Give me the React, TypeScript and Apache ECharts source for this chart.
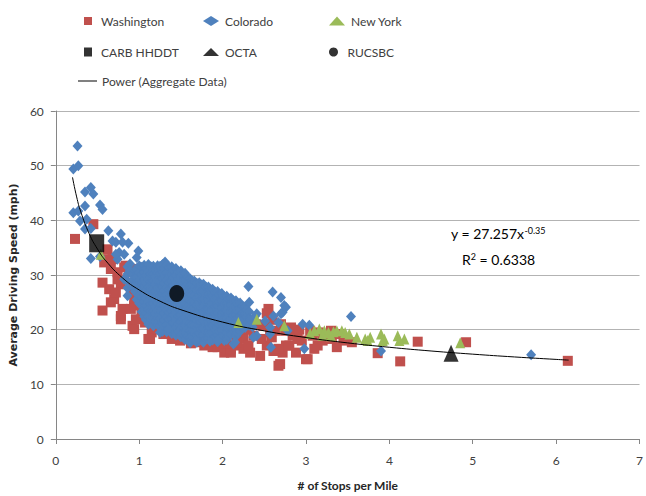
import React, { useEffect, useRef } from "react";
import * as echarts from "echarts";

const FONT = "Lato, 'Liberation Sans', sans-serif";

const seriesNames = ["Washington", "Colorado", "New York", "CARB HHDDT", "OCTA", "RUCSBC", "Power (Aggregate Data)"];
const xTicks = [0, 1, 2, 3, 4, 5, 6, 7];
const yTicks = [0, 10, 20, 30, 40, 50, 60];

const washington: [number, number][] = [
  [0.23, 36.6], [0.45, 39.3], [0.62, 34.7], [0.60, 32.9], [0.56, 28.6], [0.56, 23.5], [0.58, 32.3],
  [0.66, 31.1], [0.64, 27.4], [0.70, 25.6], [0.74, 29.2], [0.82, 31.4], [0.80, 23.8], [0.78, 21.9],
  [0.92, 20.7], [0.90, 27.4], [0.94, 24.4], [0.96, 31.1], [1.03, 22.5], [1.11, 18.3], [1.19, 20.1],
  [1.39, 18.3], [1.51, 18.6], [0.68, 32.9], [0.74, 30.5], [0.78, 28.3], [0.72, 26.8], [0.66, 25.0],
  [0.78, 22.5], [0.84, 31.7], [0.88, 30.5], [0.92, 28.0], [0.94, 25.6], [0.90, 23.8], [0.96, 21.9],
  [0.94, 20.1], [1.03, 23.2], [1.07, 21.3], [1.15, 19.5], [1.13, 18.3], [1.23, 20.1], [1.29, 19.2],
  [1.49, 18.0], [1.45, 20.1], [1.58, 18.9], [1.70, 17.7], [1.78, 17.1], [1.88, 16.8], [1.94, 18.3],
  [2.02, 15.8], [2.10, 16.5], [2.17, 17.1], [2.25, 18.3], [2.33, 15.8], [2.45, 15.2], [2.53, 17.1],
  [2.61, 16.1], [2.67, 13.4], [2.72, 15.8], [2.80, 17.1], [2.88, 15.8], [3.00, 14.6], [2.82, 20.1],
  [2.84, 18.9], [2.57, 19.5], [2.49, 20.7], [2.25, 20.1], [2.02, 23.2], [2.55, 23.8], [2.53, 23.0],
  [2.90, 18.3], [3.08, 18.9], [3.14, 17.1], [3.20, 18.0], [3.25, 18.6], [3.37, 16.8], [3.31, 18.3],
  [3.55, 17.7], [3.02, 14.6], [2.76, 17.1], [2.82, 20.4], [2.63, 19.8], [2.69, 13.7], [2.25, 16.5],
  [2.10, 15.8], [1.94, 16.8], [2.17, 17.7], [2.31, 17.1], [2.37, 18.9], [2.47, 18.3], [2.59, 18.6],
  [2.67, 16.5], [2.30, 20.0], [2.40, 21.0], [2.60, 21.8], [2.70, 21.0], [2.75, 19.8], [2.92, 20.0],
  [3.05, 19.8], [3.15, 19.5], [3.30, 19.8], [3.40, 19.2], [3.45, 18.0], [2.95, 18.0], [3.10, 16.5],
  [1.62, 17.5], [1.85, 18.0], [2.05, 17.5], [1.01, 30.2], [1.05, 28.5], [0.99, 26.5], [1.06, 25.2],
  [3.86, 15.7], [4.13, 14.2], [4.34, 17.8], [4.92, 17.7], [6.14, 14.3],
];

const colorado: [number, number][] = [
  // upper-left outliers
  [0.26, 53.6], [0.21, 49.4], [0.27, 50.0], [0.21, 41.4], [0.27, 41.7], [0.35, 42.6], [0.35, 45.2],
  [0.42, 46.0], [0.45, 44.8], [0.37, 40.2], [0.29, 39.9], [0.35, 38.4], [0.42, 38.5], [0.53, 42.8],
  [0.56, 42.0], [0.42, 33.0], [0.53, 33.4], [0.63, 38.1], [0.68, 36.2], [0.72, 36.0], [0.78, 37.5],
  [0.76, 34.1], [0.74, 32.9], [0.87, 35.8], [0.82, 33.8], [0.99, 34.4], [0.97, 33.2], [0.86, 26.2],
  [0.82, 29.2], [0.90, 30.5], [1.31, 32.4], [1.09, 24.4], [0.80, 36.0], [0.72, 33.8], [1.07, 23.5],
  // dense band
  [0.86, 31.5], [0.86, 30.2], [0.86, 28.9], [0.86, 27.6], [0.89, 32.0], [0.89, 30.8],
  [0.92, 30.2], [0.92, 29.0], [0.92, 27.8],
  [0.95, 30.9], [0.95, 29.6], [0.95, 28.3], [0.95, 27.0],
  [0.97, 31.0], [0.97, 29.6], [0.97, 28.3], [0.97, 26.9], [0.97, 25.5],
  [1.00, 31.7], [1.00, 30.4], [1.00, 29.0], [1.00, 27.6], [1.00, 26.2], [1.00, 24.8],
  [1.03, 31.4], [1.03, 30.1], [1.03, 28.7], [1.03, 27.4], [1.03, 26.0], [1.03, 24.6], [1.03, 23.3],
  [1.06, 31.8], [1.06, 30.5], [1.06, 29.1], [1.06, 27.8], [1.06, 26.4], [1.06, 25.1], [1.06, 23.7], [1.06, 22.4],
  [1.08, 31.2], [1.08, 29.9], [1.08, 28.5], [1.08, 27.1], [1.08, 25.8], [1.08, 24.4], [1.08, 23.0], [1.08, 21.8],
  [1.11, 31.9], [1.11, 30.6], [1.11, 29.2], [1.11, 27.8], [1.11, 26.5], [1.11, 25.1], [1.11, 23.7], [1.11, 22.4], [1.11, 21.0],
  [1.14, 31.5], [1.14, 30.2], [1.14, 28.8], [1.14, 27.5], [1.14, 26.1], [1.14, 24.7], [1.14, 23.4], [1.14, 22.0],
  [1.17, 31.6], [1.17, 30.2], [1.17, 28.9], [1.17, 27.5], [1.17, 26.2], [1.17, 24.8], [1.17, 23.4], [1.17, 22.1], [1.17, 20.7],
  [1.19, 31.0], [1.19, 29.7], [1.19, 28.3], [1.19, 27.0], [1.19, 25.6], [1.19, 24.2], [1.19, 22.9], [1.19, 21.5],
  [1.22, 31.7], [1.22, 30.3], [1.22, 29.0], [1.22, 27.6], [1.22, 26.3], [1.22, 24.9], [1.22, 23.5], [1.22, 22.2], [1.22, 20.9],
  [1.25, 31.6], [1.25, 30.3], [1.25, 28.9], [1.25, 27.6], [1.25, 26.2], [1.25, 24.8], [1.25, 23.5], [1.25, 22.1], [1.25, 20.8],
  [1.28, 31.9], [1.28, 30.5], [1.28, 29.2], [1.28, 27.8], [1.28, 26.5], [1.28, 25.1], [1.28, 23.7], [1.28, 22.4], [1.28, 21.0], [1.28, 19.7],
  [1.30, 31.2], [1.30, 29.8], [1.30, 28.5], [1.30, 27.1], [1.30, 25.7], [1.30, 24.4], [1.30, 23.0], [1.30, 21.7], [1.30, 20.3],
  [1.33, 31.8], [1.33, 30.4], [1.33, 29.1], [1.33, 27.7], [1.33, 26.4], [1.33, 25.0], [1.33, 23.6], [1.33, 22.3], [1.33, 20.9], [1.33, 19.6],
  [1.36, 31.4], [1.36, 30.0], [1.36, 28.6], [1.36, 27.3], [1.36, 25.9], [1.36, 24.6], [1.36, 23.2], [1.36, 21.9], [1.36, 20.5],
  [1.39, 31.5], [1.39, 30.1], [1.39, 28.8], [1.39, 27.4], [1.39, 26.1], [1.39, 24.7], [1.39, 23.4], [1.39, 22.0], [1.39, 20.6], [1.39, 19.3],
  [1.41, 30.8], [1.41, 29.5], [1.41, 28.1], [1.41, 26.8], [1.41, 25.4], [1.41, 24.0], [1.41, 22.7], [1.41, 21.3], [1.41, 20.0],
  [1.44, 31.2], [1.44, 29.9], [1.44, 28.5], [1.44, 27.2], [1.44, 25.8], [1.44, 24.4], [1.44, 23.1], [1.44, 21.7], [1.44, 20.4], [1.44, 19.0],
  [1.47, 30.6], [1.47, 29.3], [1.47, 27.9], [1.47, 26.5], [1.47, 25.2], [1.47, 23.8], [1.47, 22.5], [1.47, 21.1], [1.47, 19.7],
  [1.50, 30.8], [1.50, 29.5], [1.50, 28.1], [1.50, 26.8], [1.50, 25.4], [1.50, 24.1], [1.50, 22.7], [1.50, 21.4], [1.50, 20.0], [1.50, 18.7],
  [1.52, 30.1], [1.52, 28.8], [1.52, 27.4], [1.52, 26.1], [1.52, 24.7], [1.52, 23.3], [1.52, 22.0], [1.52, 20.6], [1.52, 19.3],
  [1.55, 30.3], [1.55, 29.0], [1.55, 27.6], [1.55, 26.3], [1.55, 24.9], [1.55, 23.6], [1.55, 22.2], [1.55, 20.8], [1.55, 19.5], [1.55, 18.2],
  [1.58, 29.6], [1.58, 28.3], [1.58, 26.9], [1.58, 25.6], [1.58, 24.2], [1.58, 22.9], [1.58, 21.5], [1.58, 20.1], [1.58, 18.8],
  [1.61, 29.3], [1.61, 28.0], [1.61, 26.6], [1.61, 25.3], [1.61, 23.9], [1.61, 22.5], [1.61, 21.2], [1.61, 19.8], [1.61, 18.5], [1.61, 17.6],
  [1.63, 29.0], [1.63, 27.7], [1.63, 26.3], [1.63, 25.0], [1.63, 23.6], [1.63, 22.2], [1.63, 20.9], [1.63, 19.5], [1.63, 18.2],
  [1.66, 28.9], [1.66, 27.6], [1.66, 26.2], [1.66, 24.9], [1.66, 23.5], [1.66, 22.1], [1.66, 20.8], [1.66, 19.4], [1.66, 18.1],
  [1.69, 28.5], [1.69, 27.2], [1.69, 25.8], [1.69, 24.5], [1.69, 23.1], [1.69, 21.7], [1.69, 20.4], [1.69, 19.0], [1.69, 17.7],
  [1.72, 28.6], [1.72, 27.3], [1.72, 25.9], [1.72, 24.6], [1.72, 23.2], [1.72, 21.9], [1.72, 20.5], [1.72, 19.2], [1.72, 18.0],
  [1.74, 28.2], [1.74, 26.9], [1.74, 25.5], [1.74, 24.1], [1.74, 22.8], [1.74, 21.4], [1.74, 20.1], [1.74, 18.7],
  [1.77, 28.3], [1.77, 27.0], [1.77, 25.6], [1.77, 24.3], [1.77, 22.9], [1.77, 21.6], [1.77, 20.2], [1.77, 18.9], [1.77, 17.7],
  [1.80, 27.8], [1.80, 26.5], [1.80, 25.1], [1.80, 23.7], [1.80, 22.4], [1.80, 21.0], [1.80, 19.7], [1.80, 18.3],
  [1.83, 27.8], [1.83, 26.5], [1.83, 25.1], [1.83, 23.8], [1.83, 22.4], [1.83, 21.1], [1.83, 19.7], [1.83, 18.4],
  [1.85, 27.3], [1.85, 26.0], [1.85, 24.6], [1.85, 23.3], [1.85, 21.9], [1.85, 20.5], [1.85, 19.2], [1.85, 17.9],
  [1.88, 27.4], [1.88, 26.1], [1.88, 24.7], [1.88, 23.4], [1.88, 22.0], [1.88, 20.7], [1.88, 19.3], [1.88, 18.1],
  [1.91, 26.9], [1.91, 25.6], [1.91, 24.2], [1.91, 22.9], [1.91, 21.5], [1.91, 20.1], [1.91, 18.8],
  [1.94, 27.0], [1.94, 25.7], [1.94, 24.3], [1.94, 23.0], [1.94, 21.6], [1.94, 20.3], [1.94, 19.0], [1.94, 17.8],
  [1.96, 26.4], [1.96, 25.1], [1.96, 23.7], [1.96, 22.4], [1.96, 21.0], [1.96, 19.7], [1.96, 18.3],
  [1.99, 26.6], [1.99, 25.3], [1.99, 23.9], [1.99, 22.6], [1.99, 21.2], [1.99, 19.9], [1.99, 18.6],
  [2.02, 26.0], [2.02, 24.7], [2.02, 23.3], [2.02, 22.0], [2.02, 20.6], [2.02, 19.3], [2.02, 18.0],
  [2.05, 26.1], [2.05, 24.8], [2.05, 23.4], [2.05, 22.1], [2.05, 20.7], [2.05, 19.4], [2.05, 18.2],
  [2.07, 25.6], [2.07, 24.3], [2.07, 22.9], [2.07, 21.6], [2.07, 20.2], [2.07, 18.9],
  [2.10, 25.8], [2.10, 24.5], [2.10, 23.1], [2.10, 21.8], [2.10, 20.4], [2.10, 19.1],
  [2.13, 25.3], [2.13, 24.0], [2.13, 22.6], [2.13, 21.3], [2.13, 19.9],
  [2.16, 25.3], [2.16, 24.0], [2.16, 22.7], [2.16, 21.4], [2.16, 20.0], [2.16, 18.8],
  [2.18, 24.8], [2.18, 23.5], [2.18, 22.1], [2.18, 20.8], [2.18, 19.5],
  [2.21, 24.9], [2.21, 23.6], [2.21, 22.3], [2.21, 21.0], [2.21, 19.7],
  [2.24, 24.3], [2.24, 23.0], [2.24, 21.7], [2.24, 20.3],
  [2.27, 24.2], [2.27, 22.9], [2.27, 21.6], [2.27, 20.4],
  [2.29, 23.6], [2.29, 22.3], [2.29, 21.0],
  [2.32, 23.3], [2.32, 22.0], [2.32, 20.8],
  // right-side scatter
  [2.33, 21.8], [2.36, 20.5], [2.39, 22.5], [2.31, 27.9], [2.32, 25.0], [2.60, 26.9], [2.70, 25.9],
  [2.76, 24.1], [2.72, 23.2], [2.41, 22.9], [2.41, 18.9], [2.58, 16.8], [2.57, 19.2], [2.13, 17.4],
  [2.15, 17.7], [1.94, 18.0], [2.98, 16.5], [2.96, 21.0], [3.04, 20.8], [1.68, 18.0], [1.25, 19.5],
  [1.35, 20.1], [2.51, 21.6], [2.57, 20.4], [2.61, 22.5], [2.67, 21.3], [2.70, 22.9], [2.74, 24.4],
  [2.78, 19.8], [2.37, 18.6], [3.54, 22.4], [3.90, 16.1], [5.70, 15.4],
];

const newYork: [number, number][] = [
  [0.54, 33.8], [2.19, 21.3], [2.41, 21.9], [2.74, 20.7], [3.10, 19.8], [3.16, 20.1], [3.22, 19.8],
  [3.27, 19.5], [3.33, 19.6], [3.37, 19.8], [3.43, 19.8], [3.47, 19.5], [3.61, 18.6], [3.71, 18.3],
  [3.77, 18.6], [3.90, 19.2], [3.94, 18.3], [4.10, 18.9], [4.18, 18.3], [4.85, 17.6], [3.05, 19.3],
  [3.20, 19.0], [3.30, 18.9], [3.52, 19.2], [3.74, 18.0], [3.92, 18.0], [4.12, 18.0],
];

const carbHhddt: [number, number][] = [[0.49, 35.8]];
const octa: [number, number][] = [[4.74, 15.7]];
const rucsbc: [number, number][] = [[1.45, 26.6]];

// Power trendline y = 27.257 x^-0.35, values at these x
const trendX = [0.2, 0.25, 0.3, 0.4, 0.5, 0.6, 0.8, 1.0, 1.25, 1.5, 2, 2.5, 3, 3.5, 4, 4.5, 5, 5.5, 6, 6.15];
const trendY = [47.88, 44.28, 41.54, 37.56, 34.74, 32.59, 29.47, 27.26, 25.21, 23.65, 21.39, 19.78, 18.56, 17.58, 16.78, 16.1, 15.52, 15.01, 14.56, 14.43];

const RED = "#C0504D";
const BLUE = "#4F81BD";
const GREEN = "#9BBB59";

export default function App() {
  const ref = useRef<HTMLDivElement>(null);
  useEffect(() => {
    if (!ref.current) return;
    const chart = echarts.init(ref.current, undefined, { renderer: "svg" });
    const mkLegend = (name: string, left: number, top: number, w: number, h: number, pad: number, icon?: string) => ({
      data: [icon ? { name, icon } : name],
      left,
      top,
      padding: 0,
      itemWidth: w,
      itemHeight: h,
      selectedMode: false,
      textStyle: { fontFamily: FONT, fontSize: 12, color: "#404040", padding: [0, 0, 0, pad] },
    });
    chart.setOption({
      animation: false,
      backgroundColor: "#ffffff",
      legend: [
        mkLegend(seriesNames[0], 84, 15, 8, 8, 4),
        mkLegend(seriesNames[1], 203, 15, 16, 10, 1),
        mkLegend(seriesNames[2], 329, 15, 16, 9, 1),
        mkLegend(seriesNames[3], 84, 46, 8, 9, 4),
        mkLegend(seriesNames[4], 203, 46, 16, 8, 1),
        mkLegend(seriesNames[5], 329, 46, 16, 9, 1),
        mkLegend(seriesNames[6], 78, 75, 19, 1, 0, "rect"),
      ],
      grid: { left: 49, right: 3.5, top: 111, bottom: 56, containLabel: false },
      xAxis: {
        type: "value",
        min: xTicks[0],
        max: xTicks[xTicks.length - 1],
        interval: 1,
        name: "# of Stops per Mile",
        nameLocation: "middle",
        nameGap: 40,
        nameTextStyle: { fontFamily: FONT, fontSize: 12, fontWeight: "bold", color: "#262626" },
        axisLine: { show: true, lineStyle: { color: "#868686", width: 1 } },
        axisTick: { show: true, length: 5, lineStyle: { color: "#868686" } },
        axisLabel: { margin: 15, fontFamily: FONT, fontSize: 12, color: "#404040" },
        splitLine: { show: false },
      },
      yAxis: {
        type: "value",
        min: yTicks[0],
        max: yTicks[yTicks.length - 1],
        interval: 10,
        name: "Average Driving Speed (mph)",
        nameLocation: "middle",
        nameGap: 28,
        nameTextStyle: { fontFamily: "'DejaVu Sans', sans-serif", fontSize: 11, fontWeight: "bold", color: "#262626" },
        axisLine: { show: true, lineStyle: { color: "#868686", width: 1 } },
        axisTick: { show: true, length: 5, lineStyle: { color: "#868686" } },
        axisLabel: { margin: 12, fontFamily: FONT, fontSize: 12, color: "#404040" },
        splitLine: { show: true, lineStyle: { color: "#B3B3B3", width: 1 } },
      },
      series: [
        { name: seriesNames[0], type: "scatter", data: washington, symbol: "rect", symbolSize: 10, itemStyle: { color: RED, opacity: 1 } },
        { name: seriesNames[1], type: "scatter", data: colorado, symbol: "diamond", symbolSize: [10, 11], itemStyle: { color: BLUE, opacity: 1 } },
        { name: seriesNames[2], type: "scatter", data: newYork, symbol: "triangle", symbolSize: [10, 11], itemStyle: { color: GREEN, opacity: 1 } },
        {
          name: seriesNames[6],
          type: "line",
          data: trendX.map((x, i) => [x, trendY[i]]),
          smooth: true,
          symbol: "none",
          lineStyle: { color: "#000000", width: 1 },
          itemStyle: { color: "#000000" },
        },
        { name: seriesNames[3], type: "scatter", data: carbHhddt, symbol: "rect", symbolSize: [15, 18], itemStyle: { color: "#000000" } },
        { name: seriesNames[4], type: "scatter", data: octa, symbol: "triangle", symbolSize: [15, 17], itemStyle: { color: "#000000" } },
        { name: seriesNames[5], type: "scatter", data: rucsbc, symbol: "circle", symbolSize: [15, 17], itemStyle: { color: "#000000" } },
      ],
      graphic: [
        {
          type: "text",
          left: 451,
          top: 226,
          style: {
            text: "{a|y = 27.257x}{b|-0.35}",
            rich: {
              a: { fontFamily: FONT, fontSize: 14, color: "#262626" },
              b: { fontFamily: FONT, fontSize: 9, color: "#262626", verticalAlign: "top" },
            },
          },
        },
        {
          type: "text",
          left: 462,
          top: 252,
          style: {
            text: "{a|R}{b|2}{a| = 0.6338}",
            rich: {
              a: { fontFamily: FONT, fontSize: 14, color: "#262626" },
              b: { fontFamily: FONT, fontSize: 9, color: "#262626", verticalAlign: "top" },
            },
          },
        },
      ],
    });
    return () => chart.dispose();
  }, []);
  return (
    <div
      ref={ref}
      style={{ position: "absolute", left: 0, top: 0, width: 646, height: 496, background: "#fff" }}
    />
  );
}
